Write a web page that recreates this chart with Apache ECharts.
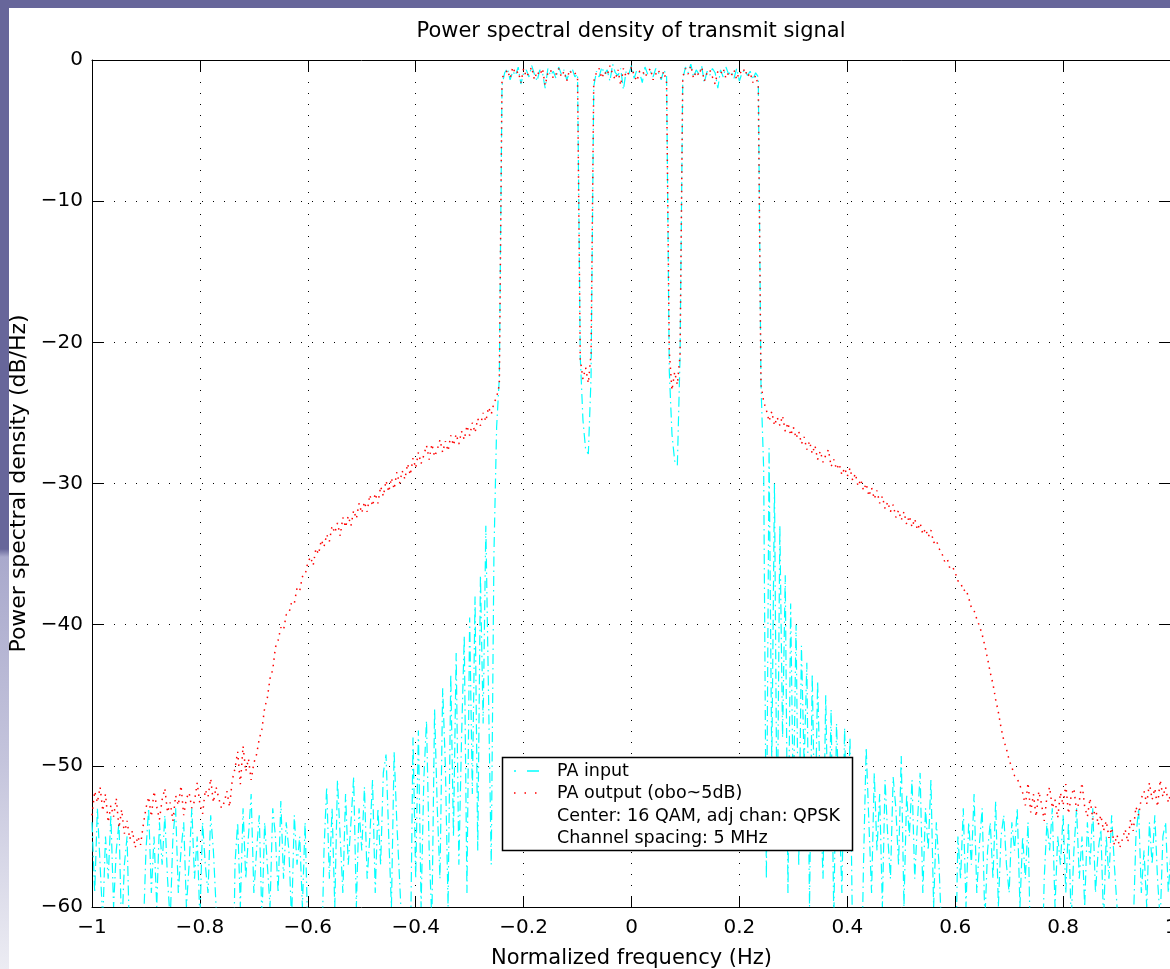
<!DOCTYPE html>
<html>
<head>
<meta charset="utf-8">
<title>Power spectral density of transmit signal</title>
<script src="https://cdn.jsdelivr.net/npm/echarts@6/dist/echarts.min.js"></script>
<style>
  html, body { margin: 0; padding: 0; background: #fff; }
  #topband { position: absolute; left: 0; top: 0; width: 1170px; height: 8px; background: #67669a; }
  #sideband { position: absolute; left: 0; top: 0; width: 9px; height: 969px;
    background: linear-gradient(to bottom, #67669a 0px, #67669a 549px, #a9a9cc 557px, #c4c4dc 760px, #ececf3 969px); }
  #chart { position: absolute; left: 0; top: 0; width: 1170px; height: 969px; }
</style>
</head>
<body>
<div id="topband"></div>
<div id="sideband"></div>
<div id="chart"></div>
<script>
// frequency grid of the estimate (normalized, -1 .. 1)
var FREQ_START = -1;
var FREQ_STEP = 0.005;

// PA input, dB/Hz (values under -60 are clipped by the axis)
var inputLeft = [
  -54,-59,-53,-57,-61,-55,-58,-53.5,-60,-56,-54,-62,-57,-55,
  -63,-67,-62,-65,-70,-62,
  -56,-53,-59,-55,-60,-54,-57,-53.5,-58,-61,-55,-53,-59,-56,-54,-60,-57,-53,-58,-55,-61,-54,-57,-59,-53.5,-56,-60,
  -63,-68,-62,-66,-64,-71,
  -57,-54,-60,-53,-58,-55,-52,-59,-56,-53.5,-61,-54,-57,-60,-53,-55,-59,-52.5,-58,-54,-56,-61,-53.5,-57,-55,-60,-54,
  -62,-66,-63,-69,-61.5,-65,
  -56,-51.5,-58,-53,-60,-51,-55,-59,-52,-57,-54,-50.8,-60,-53,-56,-51.5,-58,-55,-51,-59,-53,-57,-50.5,-49.2,-55,-60,-49,-54,-58,
  -62,-67,-61.5,-64
];
var inputLeftSkirt = [
  -48,-58,-47.5,-60,-51,-46.8,-56,-61,-46,-53,
  -58,-44.5,-50,-60,-43.5,-55,-42,-57,-48,-40.8,
  -59,-39.5,-52,-38,-56,-36.5,-47,-33,-45,-57,
  -35,-26,-22.5
];
var inputBands = [
  -1.8,-0.9,-0.6,-1.4,-0.8,-1.1,-0.5,-1.7,-0.9,-0.7,-1.2,-0.4,-1.0,-1.5,-0.7,-0.9,-2.0,-0.6,-1.1,-0.8,-1.3,-0.5,-1.0,-0.7,-1.4,-0.9,-0.6,-1.2,-1.0,
  -21,-25.5,-27.6,-27.9,-22.5,
  -1.9,-0.8,-1.2,-0.5,-1.0,-0.7,-1.5,-0.3,-0.9,-1.1,-0.6,-2.1,-0.8,-1.0,-0.4,-1.3,-0.7,-0.9,-1.6,-0.5,-1.0,-0.8,-1.2,-0.6,-0.9,-1.4,-0.7,-1.1,
  -22,-26.5,-28.4,-28.7,-21,
  -1.4,-0.5,-0.9,-0.3,-1.2,-0.7,-1.0,-0.4,-1.6,-0.8,-1.1,-0.6,-0.9,-2.0,-0.7,-1.2,-0.5,-1.0,-0.8,-1.3,-0.6,-1.5,-0.9,-0.7,-1.1,-0.8,-1.4,-0.9,-1.2
];
var inputRightSkirt = [
  -23,-29,-58,-27.5,-50,-30,-56,-33,-48,-36.5,
  -59,-38.5,-53,-40,-57,-41.5,-50,-42.7,-60,-43.5,
  -55,-44,-52,-58,-45,-56,-46,-61,-47,-53,
  -59,-47.3,-56,-48
];
var inputRight = [
  -63,-66,-61.5,-68,
  -57,-48.7,-54,-59,-50.5,-56,-52,-60,-51,-55,-58,-50.8,-53,-57,-49.3,-60,-52,-55,-51,-58,-54,-50.5,-59,-53,-56,-51,-60,-54,-57,
  -62,-65,-61.5,-68,-63,-66,
  -55,-58,-53,-60,-54,-57,-52,-59,-55.5,-53,-61,-56,-54,-58,-52.5,-60,-55,-53.5,-57,-59,-54,-56,-53,-60,-55,-58,-54,
  -64,-62,-69,-63,-66,
  -58,-54,-56,-53,-60,-55,-57,-53.5,-59,-54,-61,-56,-53,-58,-55,-60,-54,-57,-53,-59,-56,-54.5,-61,-55,-58,-53.5,-57,-60,
  -63,-67,-62,-65,-70,-61.5,
  -55,-53,-59,-56,-60,-54,-57,-53.5,-58,-61,-55,-54,-59,-56
];

// PA output (obo~5dB), dB/Hz
var outputLeft = [
  -53.5,-51.8,-52.6,-51.5,-53.2,-52.0,-54.0,-52.8,-53.6,-52.3,-54.4,-53.1,-54.8,-53.9,
  -55.2,-54.6,-55.8,-55.0,-55.6,-54.2,
  -53.0,-52.2,-53.6,-51.8,-52.9,-53.8,-52.4,-51.6,-53.3,-52.6,-53.9,-52.1,-52.8,-51.4,-53.5,-52.3,-51.9,-53.0,-52.5,-51.2,-52.7,-53.4,-51.7,-52.2,-50.9,-52.6,-51.5,
  -52.3,-53.0,-52.6,-51.8,-52.9,-51.0,
  -50.2,-49.0,-51.3,-48.6,-50.4,-49.5,-51.0,-49.8
];
var outputLeftSkirt = [
  -49.2,-48.1,-47.4,-45.9,-45.2,-43.8,-43.2,-41.6,-41.1,-40.2,
  -40.4,-39.3,-39.2,-38.4,-38.5,-37.4,-37.6,-36.6,-36.5,-35.6,
  -35.2,-35.8,-34.6,-35.0,-34.0, -34.5,-33.6,-34.1,-33.0,-33.5,
  -32.8,-33.7,-32.4,-33.1,-32.3, -33.0,-31.9,-32.5,-31.4,-32.1,
  -31.3,-32.0,-30.8,-31.6,-30.7, -31.4,-30.2,-30.9,-29.8,-30.6,
  -29.6,-30.4,-29.2,-30.0,-29.1, -29.7,-28.6,-29.4,-28.2,-28.9,
  -27.8,-28.6,-28.0,-27.3,-28.3, -27.2,-28.1,-27.6,-26.9,-27.8,
  -27.0,-27.7,-26.6,-27.3,-26.5, -27.2,-26.3,-26.9,-25.9,-26.6,
  -25.7,-26.4,-25.4,-25.9,-25.0, -25.6,-24.6,-25.1,-24.3,-23.9,
  -23.0
];
var outputBands = [
  -1.2,-1.1,-0.7,-1.3,-0.5,-1.0,-0.8,-1.6,-0.6,-1.2,-0.9,-0.5,-1.4,-0.8,-1.1,-0.6,-1.8,-0.9,-0.7,-1.3,-1.0,-0.6,-1.2,-0.8,-1.5,-0.7,-1.0,-0.9,-1.3,
  -21.2,-22.6,-21.8,-22.9,-20.8,
  -1.5,-0.9,-0.6,-1.3,-0.8,-1.1,-0.4,-1.0,-1.4,-0.7,-1.8,-0.6,-1.2,-0.9,-0.5,-1.1,-1.5,-0.8,-0.7,-1.2,-0.9,-0.6,-1.4,-1.0,-0.7,-1.3,-0.8,-1.6,
  -20.6,-23.4,-22.1,-23.0,-20.9,
  -1.2,-0.6,-1.0,-0.4,-1.3,-0.8,-1.1,-0.5,-1.5,-0.9,-0.7,-1.2,-1.7,-0.8,-1.0,-0.6,-1.3,-0.9,-1.1,-0.7,-1.4,-0.8,-1.0,-0.6,-1.2,-0.9,-1.6,-1.1,-1.8
];
var outputRightSkirt = [
  -23.0,-24.2,
  -24.8,-25.6,-24.9,-25.9,-25.3, -25.9,-25.2,-26.3,-25.7,-26.6,
  -26.0,-26.8,-26.3,-27.2,-26.7, -27.6,-27.0,-27.9,-27.3,-28.3,
  -27.7,-28.5,-28.0,-27.6,-28.8, -28.3,-29.0,-28.6,-29.4,-28.9,
  -29.5,-28.9,-29.8,-29.3,-30.2, -29.7,-30.5,-30.0,-30.9,-30.3,
  -31.1,-30.5,-31.4,-30.9,-31.8, -31.3,-32.0,-31.5,-32.4,-31.9,
  -32.6,-32.0,-32.9,-32.3,-33.1, -32.5,-33.3,-32.8,-33.6,-33.2,
  -33.8,-33.3,-34.2,-34.0,-34.6, -34.9,-35.5,-35.3,-36.0,-35.9,
  -36.3,-36.9,-37.0,-37.6,-37.5, -38.1,-38.8,-39.0,-39.6,-40.1,
  -40.7,-41.5,-42.4,-43.4,-44.2, -45.3,-46.2,-47.3,-48.2,-48.8,
  -49.6,-50.1,-50.7,-50.9,-51.4
];
var outputRight = [
  -51.9,-52.8,-51.2,-53.3,-52.0, -53.6,-51.8,-52.7,-53.9,-52.2,
  -51.5,-53.0,-52.4,-53.7,-51.9, -52.8,-51.3,-53.4,-52.1,-51.6,
  -53.2,-52.5,-51.2,-52.9,-53.6, -52.3,-53.8,-52.9,-54.2,-53.5,
  -54.6,-53.9,-55.1,-54.4,-55.6, -54.9,-55.8,-55.2,-54.5,-55.4,
  -53.8,-54.6,-52.9,-53.5,-52.3, -51.8,-52.7,-51.2,-52.4,-51.6,
  -52.9,-51.0,-52.2,-51.5,-52.6, -51.9
];

var xTicks = [-1, -0.8, -0.6, -0.4, -0.2, 0, 0.2, 0.4, 0.6, 0.8, 1];
var yTicks = [-60, -50, -40, -30, -20, -10, 0];

var legendLines = ['PA input', 'PA output (obo~5dB)', 'Center: 16 QAM, adj chan: QPSK', 'Channel spacing: 5 MHz'];

var inputPSD = [].concat(inputLeft, inputLeftSkirt, inputBands, inputRightSkirt, inputRight);
var outputPSD = [].concat(outputLeft, outputLeftSkirt, outputBands, outputRightSkirt, outputRight);

function toPairs(vals) {
  return vals.map(function (v, i) {
    return [FREQ_START + i * FREQ_STEP, v];
  });
}

var FONT = '"DejaVu Sans", "Liberation Sans", Arial, sans-serif';

function tickText(v) {
  var r = Math.round(v * 10) / 10;
  if (r === 0) return '0';
  return String(r).replace('-', '\u2212');
}

var chart = echarts.init(document.getElementById('chart'), null, { renderer: 'canvas' });

var axisLineStyle = { color: '#000', width: 1 };

var option = {
  animation: false,
  grid: { left: 92, top: 60, width: 1079, height: 847, containLabel: false, outerBoundsMode: 'none' },
  xAxis: [{
    type: 'value',
    min: xTicks[0], max: xTicks[xTicks.length - 1], interval: 0.2,
    position: 'bottom',
    name: 'Normalized frequency (Hz)',
    nameLocation: 'middle',
    nameGap: 41,
    nameTextStyle: { fontFamily: FONT, fontSize: 21, color: '#000' },
    axisLine: { onZero: false, lineStyle: axisLineStyle },
    axisTick: { inside: true, length: 11, lineStyle: { color: '#000' } },
    axisLabel: { formatter: tickText, fontFamily: FONT, fontSize: 20, color: '#000', margin: 11, showMinLabel: true, showMaxLabel: true },
    splitLine: { show: true, lineStyle: { color: '#000', width: 1, type: [1, 10] } }
  }, {
    type: 'value',
    min: xTicks[0], max: xTicks[xTicks.length - 1], interval: 0.2,
    position: 'top',
    axisLine: { onZero: false, lineStyle: axisLineStyle },
    axisTick: { inside: true, length: 11, lineStyle: { color: '#000' } },
    axisLabel: { show: false },
    splitLine: { show: false }
  }],
  yAxis: [{
    type: 'value',
    min: yTicks[0], max: yTicks[yTicks.length - 1], interval: 10,
    position: 'left',
    name: 'Power spectral density (dB/Hz)',
    nameLocation: 'middle',
    nameGap: 60,
    nameTextStyle: { fontFamily: FONT, fontSize: 22, color: '#000' },
    axisLine: { onZero: false, lineStyle: axisLineStyle },
    axisTick: { inside: true, length: 11, lineStyle: { color: '#000' } },
    axisLabel: { formatter: tickText, fontFamily: FONT, fontSize: 20, color: '#000', margin: 9, showMinLabel: true, showMaxLabel: true },
    splitLine: { show: true, lineStyle: { color: '#000', width: 1, type: [1, 10] } }
  }, {
    type: 'value',
    min: yTicks[0], max: yTicks[yTicks.length - 1], interval: 10,
    position: 'right',
    axisLine: { onZero: false, lineStyle: axisLineStyle },
    axisTick: { inside: true, length: 11, lineStyle: { color: '#000' } },
    axisLabel: { show: false },
    splitLine: { show: false }
  }],
  series: [{
    name: legendLines[0],
    type: 'line',
    data: toPairs(inputPSD),
    showSymbol: false,
    symbol: 'none',
    clip: true,
    lineStyle: { color: '#00ffff', width: 1.2, type: [10, 4, 1.5, 4] },
    z: 2
  }, {
    name: legendLines[1],
    type: 'line',
    data: toPairs(outputPSD),
    showSymbol: false,
    symbol: 'none',
    clip: true,
    lineStyle: { color: '#ff0000', width: 1.5, type: [1.5, 5] },
    z: 3
  }],
  graphic: [
    { type: 'text', x: 631, y: 32, z: 100,
      style: { text: 'Power spectral density of transmit signal', fontFamily: FONT, fontSize: 21, fill: '#000', align: 'center', verticalAlign: 'middle' } },
    { type: 'rect', z: 100, shape: { x: 502.5, y: 757.5, width: 350, height: 93 },
      style: { fill: '#fff', stroke: '#000', lineWidth: 1.5 } },
    { type: 'line', z: 101, shape: { x1: 514, y1: 771, x2: 516, y2: 771 }, style: { stroke: '#00ffff', lineWidth: 1.5 } },
    { type: 'line', z: 101, shape: { x1: 527, y1: 771, x2: 539, y2: 771 }, style: { stroke: '#00ffff', lineWidth: 1.5 } },
    { type: 'line', z: 101, shape: { x1: 514, y1: 793, x2: 540, y2: 793 }, style: { stroke: '#ff0000', lineWidth: 1.5, lineDash: [1.5, 9] } },
    { type: 'text', x: 557, y: 771, z: 101, style: { text: legendLines[0], fontFamily: FONT, fontSize: 17.5, fill: '#000', verticalAlign: 'middle' } },
    { type: 'text', x: 557, y: 793, z: 101, style: { text: legendLines[1], fontFamily: FONT, fontSize: 17.5, fill: '#000', verticalAlign: 'middle' } },
    { type: 'text', x: 557, y: 816, z: 101, style: { text: legendLines[2], fontFamily: FONT, fontSize: 17.5, fill: '#000', verticalAlign: 'middle' } },
    { type: 'text', x: 557, y: 838, z: 101, style: { text: legendLines[3], fontFamily: FONT, fontSize: 17.5, fill: '#000', verticalAlign: 'middle' } }
  ]
};

chart.setOption(option);
</script>
</body>
</html>
